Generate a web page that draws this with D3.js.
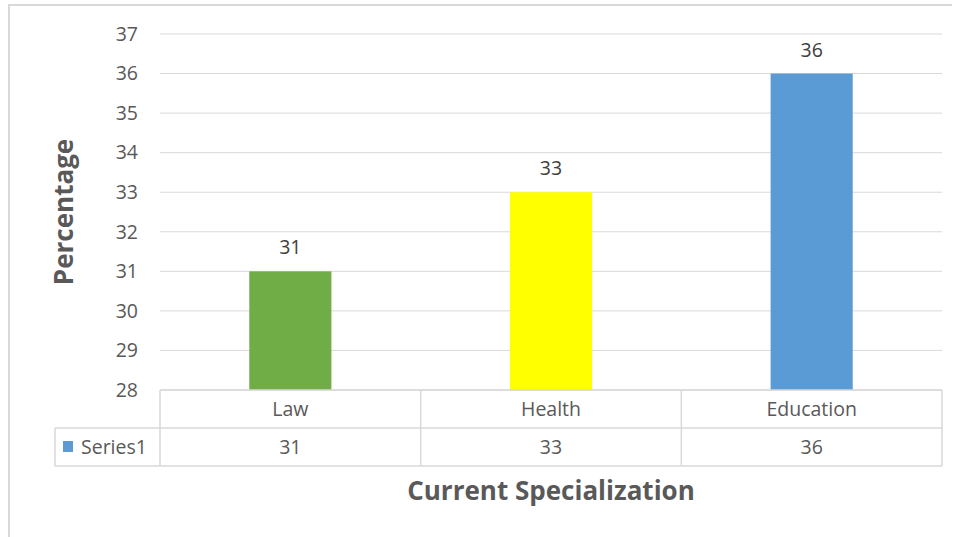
<!DOCTYPE html>
<html>
<head>
<meta charset="utf-8">
<script src="https://cdn.jsdelivr.net/npm/d3@7"></script>
<style>
  body { margin: 0; background: #fff; }
  svg { display: block; font-family: "Open Sans", "Noto Sans", sans-serif; }
</style>
</head>
<body>
<div id="chart"></div>
<script>
const categories = ['Law', 'Health', 'Education'];
const values = [31, 33, 36];
const barColors = ['#70ad47', '#ffff00', '#5b9bd5'];
const seriesName = 'Series1';
const yTicks = [28, 29, 30, 31, 32, 33, 34, 35, 36, 37];

const width = 958, height = 537;
const plot = { left: 160, right: 942, top: 34, bottom: 390 };
const rowH = 38;
const textColor = '#595959';
const gridColor = '#d9d9d9';
const fontSize = 19.5;

const svg = d3.select('#chart').append('svg')
    .attr('width', width)
    .attr('height', height);

// outer frame
svg.append('path')
    .attr('d', `M9,537 V5 H952`)
    .attr('fill', 'none')
    .attr('stroke', '#d9d9d9')
    .attr('stroke-width', 2);

const x = d3.scaleBand()
    .domain(categories)
    .range([plot.left, plot.right])
    .paddingInner(0.685)
    .paddingOuter(0.3425);

const xCell = d3.scaleBand()
    .domain(categories)
    .range([plot.left, plot.right]);

const y = d3.scaleLinear()
    .domain([28, 37])
    .range([plot.bottom, plot.top]);

// gridlines
svg.append('g')
    .selectAll('line')
    .data(yTicks)
    .join('line')
    .attr('x1', plot.left)
    .attr('x2', plot.right)
    .attr('y1', d => y(d))
    .attr('y2', d => y(d))
    .attr('stroke', gridColor)
    .attr('stroke-width', 1);

// y tick labels
svg.append('g')
    .selectAll('text')
    .data(yTicks)
    .join('text')
    .attr('x', 138)
    .attr('y', d => y(d))
    .attr('dy', '0.35em')
    .attr('text-anchor', 'end')
    .attr('font-size', fontSize)
    .attr('fill', textColor)
    .text(d => d);

// bars
svg.append('g')
    .selectAll('rect')
    .data(values)
    .join('rect')
    .attr('x', (d, i) => x(categories[i]))
    .attr('width', x.bandwidth())
    .attr('y', d => y(d))
    .attr('height', d => y(28) - y(d))
    .attr('fill', (d, i) => barColors[i]);

// data labels
svg.append('g')
    .selectAll('text')
    .data(values)
    .join('text')
    .attr('x', (d, i) => x(categories[i]) + x.bandwidth() / 2)
    .attr('y', d => y(d) - 17)
    .attr('text-anchor', 'middle')
    .attr('font-size', fontSize)
    .attr('fill', '#404040')
    .text(d => d);

// data table
const table = svg.append('g')
    .attr('fill', 'none')
    .attr('stroke', gridColor)
    .attr('stroke-width', 1.5);
const legendLeft = 55;
const r1 = plot.bottom, r2 = plot.bottom + rowH, r3 = plot.bottom + 2 * rowH;
table.append('line').attr('x1', plot.left).attr('x2', plot.right).attr('y1', r1).attr('y2', r1);
table.append('line').attr('x1', legendLeft).attr('x2', plot.right).attr('y1', r2).attr('y2', r2);
table.append('line').attr('x1', legendLeft).attr('x2', plot.right).attr('y1', r3).attr('y2', r3);
table.append('line').attr('x1', legendLeft).attr('x2', legendLeft).attr('y1', r2).attr('y2', r3);
table.selectAll('line.v')
    .data(categories.map(c => xCell(c)).concat([plot.right]))
    .join('line')
    .attr('class', 'v')
    .attr('x1', d => d).attr('x2', d => d)
    .attr('y1', r1).attr('y2', r3);

svg.append('g')
    .selectAll('text')
    .data(categories)
    .join('text')
    .attr('x', d => xCell(d) + xCell.bandwidth() / 2)
    .attr('y', r1 + rowH / 2)
    .attr('dy', '0.35em')
    .attr('text-anchor', 'middle')
    .attr('font-size', fontSize)
    .attr('fill', textColor)
    .text(d => d);

svg.append('g')
    .selectAll('text')
    .data(values)
    .join('text')
    .attr('x', (d, i) => xCell(categories[i]) + xCell.bandwidth() / 2)
    .attr('y', r2 + rowH / 2)
    .attr('dy', '0.35em')
    .attr('text-anchor', 'middle')
    .attr('font-size', fontSize)
    .attr('fill', textColor)
    .text(d => d);

// legend key in table
svg.append('rect')
    .attr('x', 63).attr('y', r2 + 13)
    .attr('width', 10).attr('height', 11)
    .attr('fill', '#5b9bd5');
svg.append('text')
    .attr('x', 81)
    .attr('y', r2 + rowH / 2)
    .attr('dy', '0.35em')
    .attr('font-size', fontSize)
    .attr('fill', textColor)
    .text(seriesName);

// axis titles
svg.append('text')
    .attr('x', (plot.left + plot.right) / 2)
    .attr('y', 500)
    .attr('text-anchor', 'middle')
    .attr('font-size', 26)
    .attr('font-weight', 'bold')
    .attr('fill', textColor)
    .text('Current Specialization');

svg.append('text')
    .attr('transform', `translate(73, ${(plot.top + plot.bottom) / 2}) rotate(-90)`)
    .attr('text-anchor', 'middle')
    .attr('font-size', 26)
    .attr('font-weight', 'bold')
    .attr('fill', textColor)
    .text('Percentage');
</script>
</body>
</html>
